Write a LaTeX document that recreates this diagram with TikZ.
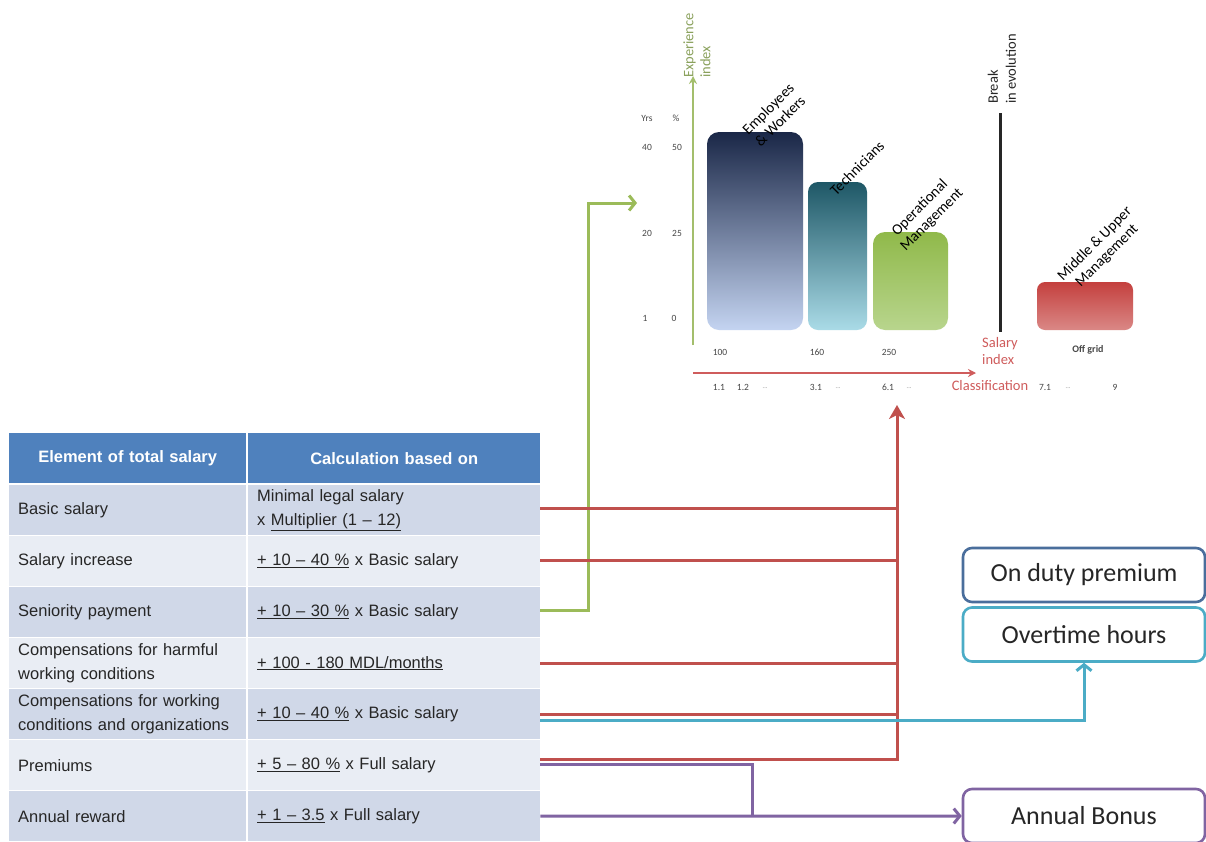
\documentclass[tikz,border=0pt]{standalone}
\usepackage{fontspec}
\setmainfont{Liberation Sans}
\newfontfamily\calfont{Carlito}
\usetikzlibrary{arrows.meta}
\definecolor{hdr}{HTML}{4F81BD}
\definecolor{rowd}{HTML}{D0D8E8}
\definecolor{rowl}{HTML}{E9EDF4}
\definecolor{cred}{HTML}{C0504D}
\definecolor{cgreen}{HTML}{9BBB59}
\definecolor{ccyan}{HTML}{4BACC6}
\definecolor{cpurp}{HTML}{8064A2}
\definecolor{cblue}{HTML}{4A6E9C}
\definecolor{txt}{HTML}{262626}
\definecolor{axgreen}{HTML}{A3BE6C}
\definecolor{axred}{HTML}{CF5C5C}
\definecolor{navyT}{HTML}{1A2747}
\definecolor{navyM}{HTML}{55698F}
\definecolor{navyB}{HTML}{C4D4F1}
\definecolor{tealT}{HTML}{1E5766}
\definecolor{tealM}{HTML}{3F8898}
\definecolor{tealB}{HTML}{AADBE7}
\definecolor{grnT}{HTML}{90B94A}
\definecolor{grnB}{HTML}{B8D58D}
\definecolor{redT}{HTML}{C4403E}
\definecolor{redB}{HTML}{DA8886}
\newcommand{\tabfont}{\fontsize{16.5}{24}\selectfont}
\newcommand{\smallnum}{\calfont\fontsize{9.5}{11}\selectfont}
\begin{document}
\begin{tikzpicture}[x=1pt,y=-1pt,
  cellA/.style={anchor=north west, minimum height=50pt, text width=219pt, inner xsep=9pt, inner ysep=0pt, align=left, font=\tabfont, text=txt},
  cellB/.style={anchor=north west, minimum height=50pt, text width=274pt, inner xsep=9pt, inner ysep=0pt, align=left, font=\tabfont, text=txt},
  hcell/.style={fill=hdr, text=white, font=\tabfont\bfseries, align=center},
  dark/.style={fill=rowd}, light/.style={fill=rowl},
  num/.style={font=\smallnum, text=txt!85, inner sep=0pt},
  dots/.style={font=\calfont\fontsize{6}{7}\selectfont, text=txt!60, inner sep=0pt},
  barlbl/.style={rotate=45, align=center, font=\calfont\fontsize{15}{17}\selectfont, text=black, inner sep=0pt},
  rbox/.style={draw, line width=2.6pt, rounded corners=9pt, fill=white, minimum width=242pt, minimum height=54pt, font=\calfont\fontsize{26}{30}\selectfont, text=txt},
  redln/.style={cred, line width=3pt},
  grnln/.style={cgreen, line width=3pt},
  cyanln/.style={ccyan, line width=3pt},
  purln/.style={cpurp, line width=3pt},
  barb/.style={-{Straight Barb[length=6pt,width=15pt]}}
]
\fill[white] (0,0) rectangle (1206,841);
\useasboundingbox (0,0) rectangle (1206,841);

% ---------- table ----------
\node[cellA,hcell] (h1) at (9,433) {Element of total salary};
\node[cellB,hcell] (h2) at (248,433) {Calculation based on};
\node[cellA,dark] (r1a) at (9,485) {Basic salary};
\node[cellB,dark] (r1b) at (248,485) {Minimal legal salary\\x \underline{Multiplier (1 – 12)}};
\node[cellA,light] (r2a) at (9,536) {Salary increase};
\node[cellB,light] (r2b) at (248,536) {\underline{+ 10 – 40 \%} x Basic salary};
\node[cellA,dark] (r3a) at (9,587) {Seniority payment};
\node[cellB,dark] (r3b) at (248,587) {\underline{+ 10 – 30 \%} x Basic salary};
\node[cellA,light] (r4a) at (9,638) {Compensations for harmful\\working conditions};
\node[cellB,light] (r4b) at (248,638) {\underline{+ 100 - 180 MDL/months}};
\node[cellA,dark] (r5a) at (9,689) {Compensations for working\\conditions and organizations};
\node[cellB,dark] (r5b) at (248,689) {\underline{+ 10 – 40 \%} x Basic salary};
\node[cellA,light] (r6a) at (9,740) {Premiums};
\node[cellB,light] (r6b) at (248,740) {\underline{+ 5 – 80 \%} x Full salary};
\node[cellA,dark] (r7a) at (9,791) {Annual reward};
\node[cellB,dark] (r7b) at (248,791) {\underline{+ 1 – 3.5} x Full salary};

% ---------- right boxes ----------
\node[rbox,draw=cblue] (od) at (1084,575) {On duty premium};
\node[rbox,draw=ccyan] (ot) at (1084,634.5) {Overtime hours};
\node[rbox,draw=cpurp] (ab) at (1084,816) {Annual Bonus};

% ---------- chart ----------
\shade[top color=navyT, middle color=navyM, bottom color=navyB, rounded corners=12pt] (707,132) rectangle (803,330);
\shade[top color=tealT, middle color=tealM, bottom color=tealB, rounded corners=10pt] (808,182) rectangle (867,330);
\shade[top color=grnT, bottom color=grnB, rounded corners=12pt] (873,232) rectangle (948,330);
\shade[top color=redT, bottom color=redB, rounded corners=8pt] (1037,282) rectangle (1133,330);

\coordinate (gax0) at (693,345);
\coordinate (gax1) at (693,76);
\coordinate (rax0) at (693,373);
\coordinate (rax1) at (976,373);
\coordinate (brk0) at (1000,113);
\coordinate (brk1) at (1000,332);
\draw[axgreen, line width=2.5pt, -{Stealth[length=8pt,width=8pt]}] (gax0) -- (gax1);
\draw[axred, line width=2.5pt, -{Stealth[length=8pt,width=8pt]}] (rax0) -- (rax1);
\draw[black!85, line width=3pt] (brk0) -- (brk1);

\node[rotate=90, anchor=west, align=left, text=axgreen!85!black, font=\calfont\fontsize{14.5}{17}\selectfont, inner sep=0pt] (exp) at (697,78) {Experience\\index};
\node[rotate=90, anchor=west, align=left, text=txt, font=\calfont\fontsize{14.5}{18}\selectfont, inner sep=0pt] (brk) at (1002,104) {Break\\in evolution};
\node[anchor=north west, align=left, text=axred, font=\calfont\fontsize{14.5}{17}\selectfont, inner sep=0pt] (sal) at (982,337) {Salary\\index};
\node[text=axred, font=\calfont\fontsize{14.5}{17}\selectfont, inner sep=0pt] (cls) at (990,386) {Classification};

\node[barlbl] (bl1) at (774,115) {Employees\\\& Workers};
\node[barlbl] (bl2) at (857,168) {Technicians};
\node[barlbl] (bl3) at (926,214) {Operational\\Management};
\node[barlbl] (bl4) at (1101,250) {Middle \& Upper\\Management};

\node[num] (yrs) at (647,118) {Yrs};
\node[num] (pct) at (676,118) {\%};
\node[num] (y40) at (647,147) {40};
\node[num] (p50) at (677,147) {50};
\node[num] (y20) at (647,233) {20};
\node[num] (p25) at (677,233) {25};
\node[num] (y1) at (645,318) {1};
\node[num] (p0) at (674,318) {0};
\node[num] (s100) at (720,352) {100};
\node[num] (s160) at (817,352) {160};
\node[num] (s250) at (889,352) {250};
\node[num, font=\calfont\fontsize{10}{12}\selectfont\bfseries] (offg) at (1088,350) {Off grid};
\node[num] (c11) at (719,387) {1.1};
\node[num] (c12) at (743,387) {1.2};
\node[dots] (d1) at (765,388) {...};
\node[num] (c31) at (816,387) {3.1};
\node[dots] (d2) at (838,388) {...};
\node[num] (c61) at (888,387) {6.1};
\node[dots] (d3) at (909,388) {...};
\node[num] (c71) at (1045,387) {7.1};
\node[dots] (d4) at (1068,388) {...};
\node[num] (c9) at (1115,387) {9};

% ---------- connectors ----------
\coordinate (redtip) at (897,405);
\coordinate (gbend) at (588,203);
\coordinate (gtip) at (637,203);
\coordinate (pj) at (752,816);

\draw[grnln, barb] ([yshift=2pt]r3b.east) -| (gbend) -- (gtip);
\draw[redln] ([yshift=2pt]r1b.east) coordinate (a1) -- (a1 -| redtip);
\draw[redln] ([yshift=1pt]r2b.east) coordinate (a2) -- (a2 -| redtip);
\draw[redln] (r4b.east) coordinate (a4) -- (a4 -| redtip);
\draw[redln] (r5b.east) coordinate (a5) -- (a5 -| redtip);
\draw[redln, -{Stealth[length=14pt,width=16pt,inset=4pt]}] ([yshift=6pt]r6b.east) -| (redtip);
\draw[cyanln, barb] ([yshift=-6pt]r5b.east) -| (ot.south);
\draw[purln] ([yshift=1pt]r6b.east) -| (pj);
\draw[purln, barb] (r7b.east) -- (ab.west);
\end{tikzpicture}
\end{document}
